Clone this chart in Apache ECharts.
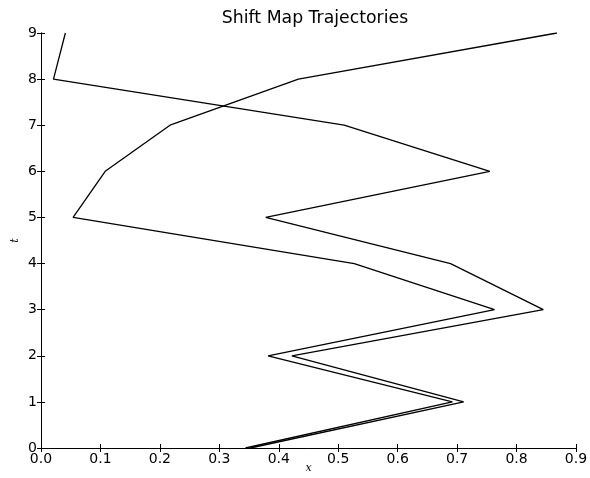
<!DOCTYPE html>
<html>
<head>
<meta charset="utf-8">
<script src="https://cdn.jsdelivr.net/npm/echarts@6/dist/echarts.min.js"></script>
<style>
html,body{margin:0;padding:0;background:#fff;}
#chart{width:590px;height:478px;}
</style>
</head>
<body>
<div id="chart"></div>
<script>
var times = [0, 1, 2, 3, 4, 5, 6, 7, 8, 9];
var trajectoryA = [0.344, 0.692, 0.382, 0.763, 0.527, 0.054, 0.108, 0.217, 0.433, 0.868];
var trajectoryB = [0.352, 0.711, 0.422, 0.845, 0.689, 0.378, 0.755, 0.510, 0.021, 0.041];
var xTicks = [0.0, 0.1, 0.2, 0.3, 0.4, 0.5, 0.6, 0.7, 0.8, 0.9];
var yTicks = [0, 1, 2, 3, 4, 5, 6, 7, 8, 9];

function pairs(xs) { return xs.map(function (v, i) { return [v, times[i]]; }); }

var font = 'DejaVu Sans';
var axisLine = { show: true, lineStyle: { color: '#000', width: 1 } };
var tick = { show: true, inside: true, length: 4, lineStyle: { color: '#000', width: 1 } };

var chart = echarts.init(document.getElementById('chart'), null, { renderer: 'canvas' });
chart.setOption({
  animation: false,
  backgroundColor: '#fff',
  title: {
    text: 'Shift Map Trajectories',
    left: 310,
    textAlign: 'center',
    top: 5,
    textStyle: { fontFamily: font, fontSize: 17.3, fontWeight: 'normal', color: '#000' }
  },
  grid: { left: 41, right: 14, top: 33, bottom: 30, containLabel: false, outerBoundsMode: 'none' },
  xAxis: [{
    type: 'value', min: 0, max: 0.9, interval: 0.1, position: 'bottom',
    axisLine: axisLine, axisTick: tick, splitLine: { show: false },
    axisLabel: { color: '#000', fontFamily: font, fontSize: 14, margin: 4,
      formatter: function (v) { return v.toFixed(1); } },
    name: 'x', nameLocation: 'middle', nameGap: 15, nameMoveOverlap: false,
    nameTextStyle: { fontFamily: 'DejaVu Serif', fontStyle: 'italic', fontSize: 11, color: '#000' }
  }, {
    type: 'value', min: 0, max: 0.9, interval: 0.1, position: 'top',
    axisLine: axisLine, axisTick: tick, splitLine: { show: false }, axisLabel: { show: false }
  }],
  yAxis: [{
    type: 'value', min: 0, max: 9, interval: 1, position: 'left',
    axisLine: axisLine, axisTick: tick, splitLine: { show: false },
    axisLabel: { color: '#000', fontFamily: font, fontSize: 14, margin: 4 },
    name: 't', nameLocation: 'middle', nameGap: 20, nameRotate: 90, nameMoveOverlap: false,
    nameTextStyle: { fontFamily: 'DejaVu Serif', fontStyle: 'italic', fontSize: 11, color: '#000' }
  }, {
    type: 'value', min: 0, max: 9, interval: 1, position: 'right',
    axisLine: axisLine, axisTick: tick, splitLine: { show: false }, axisLabel: { show: false }
  }],
  series: [{
    type: 'line', data: pairs(trajectoryA), showSymbol: false, symbol: 'none',
    lineStyle: { color: '#000', width: 1.3 }, xAxisIndex: 0, yAxisIndex: 0
  }, {
    type: 'line', data: pairs(trajectoryB), showSymbol: false, symbol: 'none',
    lineStyle: { color: '#000', width: 1.3 }, xAxisIndex: 0, yAxisIndex: 0
  }]
});
</script>
</body>
</html>
